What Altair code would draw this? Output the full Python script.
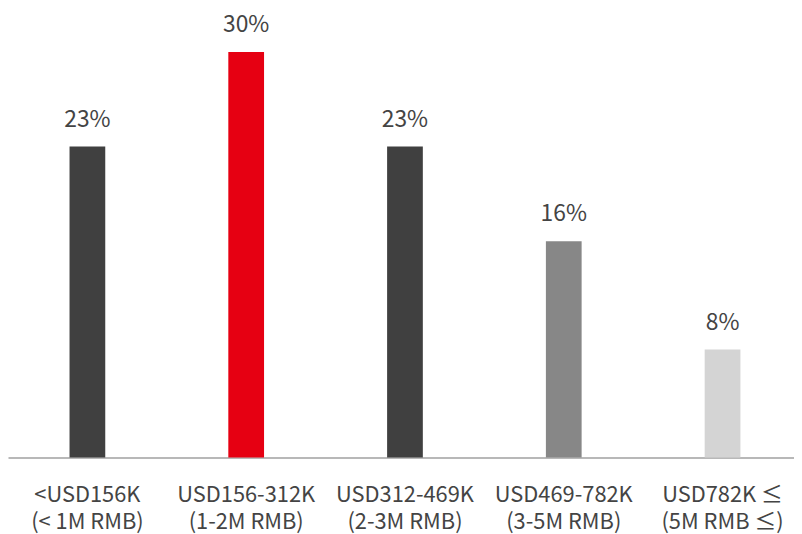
import altair as alt
import pandas as pd

categories = ["<USD156K\n(< 1M RMB)", "USD156-312K\n(1-2M RMB)", "USD312-469K\n(2-3M RMB)",
              "USD469-782K\n(3-5M RMB)", "USD782K ≤\n(5M RMB ≤)"]
values = [23, 30, 23, 16, 8]
labels = ["23%", "30%", "23%", "16%", "8%"]
colors = ["#404040", "#e60012", "#404040", "#878787", "#d4d4d4"]

df = pd.DataFrame({"cat": categories, "value": values, "label": labels, "color": colors})

FONT = "Noto Sans CJK JP"

xscale = alt.Scale(range=[0, 800], paddingInner=0.775, paddingOuter=0.3875)
x = alt.X("cat:N", sort=categories, title=None, scale=xscale,
          axis=alt.Axis(labelAngle=0, labelFont=FONT, labelFontSize=22, labelColor="#444444",
                        labelPadding=27, labelLineHeight=27, ticks=False, domainColor="#a0a0a0",
                        domainWidth=1.5, labelExpr="split(datum.label, '\\n')"))
y = alt.Y("value:Q", scale=alt.Scale(domain=[0, 33.1]), axis=None)

bars = alt.Chart(df).mark_bar(size=36).encode(x=x, y=y, color=alt.Color("color:N", scale=None))
text = alt.Chart(df).mark_text(font=FONT, fontSize=23, color="#444444", dy=-20,
                               baseline="alphabetic").encode(
    x=alt.X("cat:N", sort=categories, scale=xscale), y=y, text="label:N")

chart = (bars + text).properties(
    width=786, height=451, autosize="none",
    padding={"left": 0, "top": 0, "right": 6, "bottom": 75},
).configure_view(stroke=None)
chart.save("out.html", embed_options={"renderer": "svg", "actions": False})
